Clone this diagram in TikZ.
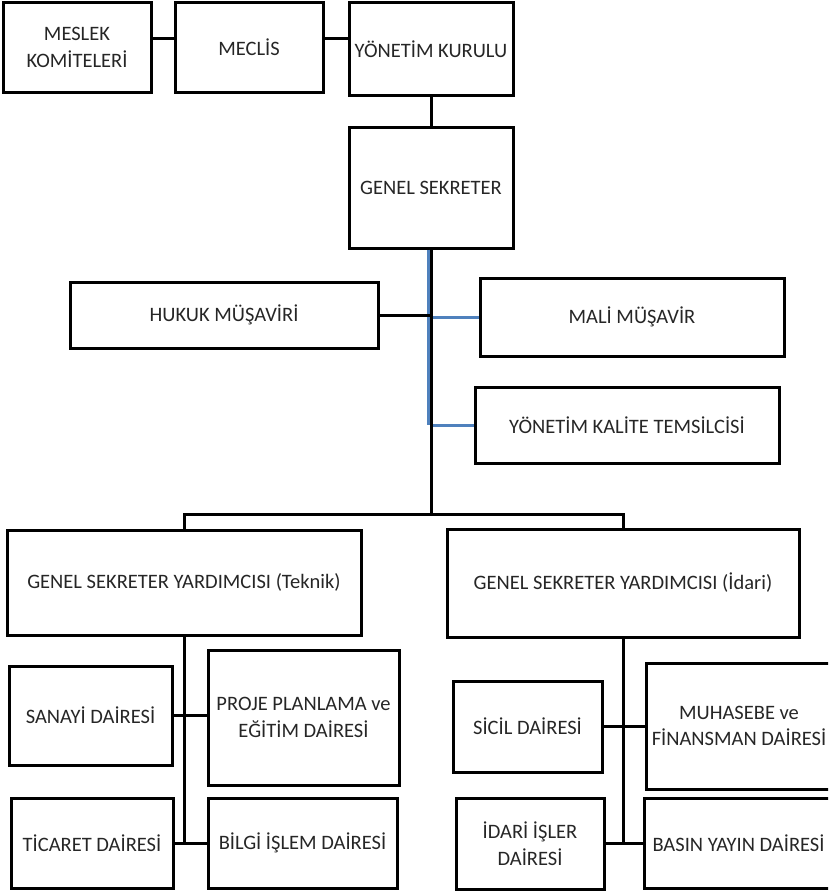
\documentclass[tikz,border=0pt]{standalone}
\usepackage{fontspec}
\setmainfont{Carlito}
\definecolor{linkblue}{RGB}{79,129,189}
\tikzset{
  unit/.style={draw, line width=3pt, align=center, inner sep=2pt, text=black!85,
    font=\fontsize{20.5}{26.5}\selectfont},
  link/.style={line width=3pt},
  bluelink/.style={line width=3pt, draw=linkblue}
}

\begin{document}
\begin{tikzpicture}[x=1pt,y=-1pt]
\useasboundingbox (0,0) rectangle (828,891);
\clip (0,0) rectangle (828,891);

% top row
\node[unit, minimum width=148, minimum height=89] (meslek) at (77,47.5) {MESLEK\\KOMİTELERİ};
\node[unit, minimum width=148, minimum height=89] (meclis) at (249,47.5) {MECLİS};
\node[unit, minimum width=164, minimum height=92] (yk) at (431,49) {YÖNETİM KURULU};
\node[unit, minimum width=164, minimum height=121] (gs) at (431,187.5) {GENEL SEKRETER};

% advisers
\node[unit, minimum width=308, minimum height=66] (hukuk) at (224,315) {HUKUK MÜŞAVİRİ};
\node[unit, minimum width=304, minimum height=78] (mali) at (632,317) {MALİ MÜŞAVİR};
\node[unit, minimum width=304, minimum height=76] (ykt) at (627,425) {YÖNETİM KALİTE TEMSİLCİSİ};

% deputies
\node[unit, minimum width=354, minimum height=105] (teknik) at (184,582.5) {GENEL SEKRETER YARDIMCISI (Teknik)};
\node[unit, minimum width=352, minimum height=108] (idari) at (623,583) {GENEL SEKRETER YARDIMCISI (İdari)};

% departments
\node[unit, minimum width=163, minimum height=99] (sanayi) at (90.5,715.5) {SANAYİ DAİRESİ};
\node[unit, minimum width=191, minimum height=135] (proje) at (303.5,717.5) {PROJE PLANLAMA ve\\EĞİTİM DAİRESİ};
\node[unit, minimum width=162, minimum height=90] (ticaret) at (92,843) {TİCARET DAİRESİ};
\node[unit, minimum width=189, minimum height=90] (bilgi) at (302.5,843) {BİLGİ İŞLEM DAİRESİ};
\node[unit, minimum width=149, minimum height=91] (sicil) at (527.5,726.5) {SİCİL DAİRESİ};
\node[unit, minimum width=186, minimum height=126] (muhasebe) at (739,726) {MUHASEBE ve\\FİNANSMAN DAİRESİ};
\node[unit, minimum width=148, minimum height=91] (idariisler) at (530,843.5) {İDARİ İŞLER\\DAİRESİ};
\node[unit, minimum width=189, minimum height=90] (basin) at (738.5,843) {BASIN YAYIN DAİRESİ};

\coordinate (split) at (431,514);
\coordinate (kalite) at (gs.south |- ykt.west);

\draw[link] ([yshift=8.5]meslek.east) -- ([yshift=8.5]meclis.west);
\draw[link] ([yshift=8.5]meclis.east) -- ([yshift=10]yk.west);
\draw[link] (yk) -- (gs);

% blue lines first, black trunk on top
\draw[bluelink] ([xshift=-2.5]gs.south) -- ([xshift=-2.5]kalite);
\draw[bluelink] (mali.west -| gs.south) -- (mali.west);
\draw[bluelink] (kalite) -- (ykt.west);
\draw[link] (hukuk.east) -- (hukuk.east -| gs.south);
\draw[link] (gs.south) -- (split);
\draw[link] (teknik.north) |- (split) -| (idari.north);

\draw[link] (teknik.south) -- (teknik.south |- ticaret.east);
\draw[link] (sanayi.east) -- (sanayi.east -| proje.west);
\draw[link] (ticaret.east) -- (bilgi.west);

\draw[link] (idari.south) -- (idari.south |- idariisler.east);
\draw[link] (sicil.east) -- (sicil.east -| muhasebe.west);
\draw[link] (idariisler.east) -- (idariisler.east -| basin.west);

\end{tikzpicture}
\end{document}
